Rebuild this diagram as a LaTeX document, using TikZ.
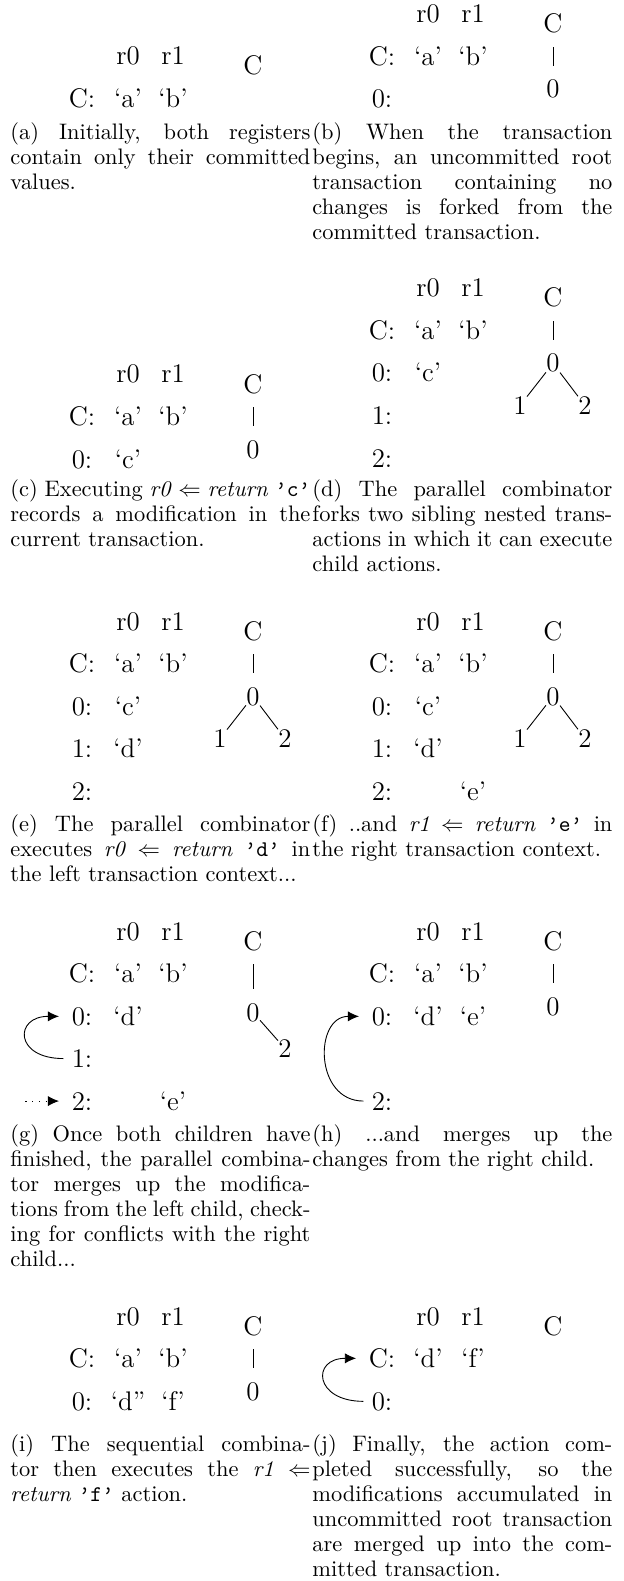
\documentclass[tikz,border=0pt]{standalone}
\usepackage{tikz}
\usetikzlibrary{arrows.meta,positioning}
\newcommand{\larr}{$\Leftarrow$}
\tikzset{
  reg/.style={anchor=base, font=\fontsize{12}{14}\selectfont, inner sep=1pt},
  tn/.style={reg, inner sep=0pt},
  bar/.style={shorten <=6pt, shorten >=6pt},
  subcap/.style={anchor=north west, inner sep=0pt, text width=133.8pt, align=justify,
              font=\fontsize{10}{11.15}\selectfont},
  merge/.style={-{Latex[length=5pt,width=4.6pt]}, shorten <=2.5pt, shorten >=4.5pt},
}

\begin{document}
\begin{tikzpicture}[x=4.46pt,y=4.46pt]
  \useasboundingbox (0,0) rectangle (62.4,-158.1);

  % (a) initial state
  \begin{scope}[shift={(8.2,-6.5)}]
    \node[reg] (ar0) at (4.6,0) {r0};
    \node[reg] (ar1) at (9.1,0) {r1};
    \node[reg] (aC) at (0,-4.25) {C:};
    \node[reg] (aCa) at (4.6,-4.25) {‘a’};
    \node[reg] (aCb) at (9.1,-4.25) {‘b’};
    \node[tn] (atC) at (17.1,-1.0) {C};
  \end{scope}

  % (b) root forked
  \begin{scope}[shift={(38.2,-2.3)}]
    \node[reg] (br0) at (4.6,0) {r0};
    \node[reg] (br1) at (9.1,0) {r1};
    \node[reg] (bC) at (0,-4.25) {C:};
    \node[reg] (bCa) at (4.6,-4.25) {‘a’};
    \node[reg] (bCb) at (9.1,-4.25) {‘b’};
    \node[reg] (b0) at (0,-8.5) {0:};
    \node[tn] (btC) at (17.1,-1.0) {C};
    \node[tn] (bt0) at (17.1,-7.5) {0};
    \draw[bar] (btC) -- (bt0);
  \end{scope}

  \node[subcap] (capa) at (1.0,-12.2) {(a) Initially, both registers contain only their committed values.};
  \node[subcap] (capb) at (31.2,-12.2) {(b) When the transaction begins, an uncommitted root transaction
    containing no changes is forked from the committed transaction.};

  % (c) write r0
  \begin{scope}[shift={(8.2,-38.3)}]
    \node[reg] (cr0) at (4.6,0) {r0};
    \node[reg] (cr1) at (9.1,0) {r1};
    \node[reg] (cC) at (0,-4.25) {C:};
    \node[reg] (cCa) at (4.6,-4.25) {‘a’};
    \node[reg] (cCb) at (9.1,-4.25) {‘b’};
    \node[reg] (c0) at (0,-8.5) {0:};
    \node[reg] (c0a) at (4.6,-8.5) {‘c’};
    \node[tn] (ctC) at (17.1,-1.0) {C};
    \node[tn] (ct0) at (17.1,-7.5) {0};
    \draw[bar] (ctC) -- (ct0);
  \end{scope}

  % (d) parallel fork
  \begin{scope}[shift={(38.2,-29.7)}]
    \node[reg] (dr0) at (4.6,0) {r0};
    \node[reg] (dr1) at (9.1,0) {r1};
    \node[reg] (dC) at (0,-4.25) {C:};
    \node[reg] (dCa) at (4.6,-4.25) {‘a’};
    \node[reg] (dCb) at (9.1,-4.25) {‘b’};
    \node[reg] (d0) at (0,-8.5) {0:};
    \node[reg] (d0a) at (4.6,-8.5) {‘c’};
    \node[reg] (d1) at (0,-12.75) {1:};
    \node[reg] (d2) at (0,-17) {2:};
    \node[tn] (dtC) at (17.1,-1.0) {C};
    \node[tn] (dt0) at (17.1,-7.5) {0};
    \node[tn] (dt1) at (13.8,-11.75) {1};
    \node[tn] (dt2) at (20.3,-11.75) {2};
    \draw[bar] (dtC) -- (dt0);
    \draw (dt0) -- (dt1);
    \draw (dt0) -- (dt2);
  \end{scope}

  \node[subcap] (capc) at (1.0,-47.9) {(c) Executing \textit{r0} \larr{} \textit{return} \texttt{’c’}
    records a modification in the current transaction.};
  \node[subcap] (capd) at (31.2,-47.9) {(d) The parallel combinator forks two sibling nested
    transactions in which it can execute child actions.};

  % (e) left child writes
  \begin{scope}[shift={(8.2,-63.0)}]
    \node[reg] (er0) at (4.6,0) {r0};
    \node[reg] (er1) at (9.1,0) {r1};
    \node[reg] (eC) at (0,-4.25) {C:};
    \node[reg] (eCa) at (4.6,-4.25) {‘a’};
    \node[reg] (eCb) at (9.1,-4.25) {‘b’};
    \node[reg] (e0) at (0,-8.5) {0:};
    \node[reg] (e0a) at (4.6,-8.5) {‘c’};
    \node[reg] (e1) at (0,-12.75) {1:};
    \node[reg] (e1a) at (4.6,-12.75) {‘d’};
    \node[reg] (e2) at (0,-17) {2:};
    \node[tn] (etC) at (17.1,-1.0) {C};
    \node[tn] (et0) at (17.1,-7.5) {0};
    \node[tn] (et1) at (13.8,-11.75) {1};
    \node[tn] (et2) at (20.3,-11.75) {2};
    \draw[bar] (etC) -- (et0);
    \draw (et0) -- (et1);
    \draw (et0) -- (et2);
  \end{scope}

  % (f) right child writes
  \begin{scope}[shift={(38.2,-63.0)}]
    \node[reg] (fr0) at (4.6,0) {r0};
    \node[reg] (fr1) at (9.1,0) {r1};
    \node[reg] (fC) at (0,-4.25) {C:};
    \node[reg] (fCa) at (4.6,-4.25) {‘a’};
    \node[reg] (fCb) at (9.1,-4.25) {‘b’};
    \node[reg] (f0) at (0,-8.5) {0:};
    \node[reg] (f0a) at (4.6,-8.5) {‘c’};
    \node[reg] (f1) at (0,-12.75) {1:};
    \node[reg] (f1a) at (4.6,-12.75) {‘d’};
    \node[reg] (f2) at (0,-17) {2:};
    \node[reg] (f2b) at (9.1,-17) {‘e’};
    \node[tn] (ftC) at (17.1,-1.0) {C};
    \node[tn] (ft0) at (17.1,-7.5) {0};
    \node[tn] (ft1) at (13.8,-11.75) {1};
    \node[tn] (ft2) at (20.3,-11.75) {2};
    \draw[bar] (ftC) -- (ft0);
    \draw (ft0) -- (ft1);
    \draw (ft0) -- (ft2);
  \end{scope}

  \node[subcap] (cape) at (1.0,-81.4) {(e) The parallel combinator\linebreak{} executes \textit{r0}
    \larr{} \textit{return} \texttt{’d’} in\linebreak{} the left transaction context...};
  \node[subcap] (capf) at (31.2,-81.4) {(f) ..and \textit{r1} \larr{} \textit{return} \texttt{’e’}
    in\linebreak{} the right transaction context.};

  % (g) merge left child
  \begin{scope}[shift={(8.2,-94.0)}]
    \node[reg] (gr0) at (4.6,0) {r0};
    \node[reg] (gr1) at (9.1,0) {r1};
    \node[reg] (gC) at (0,-4.25) {C:};
    \node[reg] (gCa) at (4.6,-4.25) {‘a’};
    \node[reg] (gCb) at (9.1,-4.25) {‘b’};
    \node[reg] (g0) at (0,-8.5) {0:};
    \node[reg] (g0a) at (4.6,-8.5) {‘d’};
    \node[reg] (g1) at (0,-12.75) {1:};
    \node[reg] (g2) at (0,-17) {2:};
    \node[reg] (g2b) at (9.1,-17) {‘e’};
    \node[tn] (gtC) at (17.1,-1.0) {C};
    \node[tn] (gt0) at (17.1,-8.1) {0};
    \node[tn] (gt2) at (20.3,-11.75) {2};
    \draw[bar] (gtC) -- (gt0);
    \draw (gt0) -- (gt2);
    \draw[merge] (g1.west) .. controls +(-5.5,0) and +(-5.5,0) .. (g0.west);
    \coordinate[left=22pt of g2.west] (gin);
    \draw[merge, dash pattern=on 0.6pt off 2.4pt] (gin) -- (g2.west);
  \end{scope}

  % (h) merge right child
  \begin{scope}[shift={(38.2,-94.0)}]
    \node[reg] (hr0) at (4.6,0) {r0};
    \node[reg] (hr1) at (9.1,0) {r1};
    \node[reg] (hC) at (0,-4.25) {C:};
    \node[reg] (hCa) at (4.6,-4.25) {‘a’};
    \node[reg] (hCb) at (9.1,-4.25) {‘b’};
    \node[reg] (h0) at (0,-8.5) {0:};
    \node[reg] (h0a) at (4.6,-8.5) {‘d’};
    \node[reg] (h0b) at (9.1,-8.5) {‘e’};
    \node[reg] (h2) at (0,-17) {2:};
    \node[tn] (htC) at (17.1,-1.0) {C};
    \node[tn] (ht0) at (17.1,-7.5) {0};
    \draw[bar] (htC) -- (ht0);
    \draw[merge] (h2.west) .. controls +(-5.5,0) and +(-5.5,0) .. (h0.west);
  \end{scope}

  \node[subcap] (capg) at (1.0,-112.4) {(g) Once both children have finished, the parallel combinator
    merges up the modifications from the left child, checking for conflicts with the right child...};
  \node[subcap] (caph) at (31.2,-112.4) {(h) ...and merges up the changes from the right child.};

  % (i) sequential step
  \begin{scope}[shift={(8.2,-132.5)}]
    \node[reg] (ir0) at (4.6,0) {r0};
    \node[reg] (ir1) at (9.1,0) {r1};
    \node[reg] (iC) at (0,-4.25) {C:};
    \node[reg] (iCa) at (4.6,-4.25) {‘a’};
    \node[reg] (iCb) at (9.1,-4.25) {‘b’};
    \node[reg] (i0) at (0,-8.5) {0:};
    \node[reg] (i0a) at (4.6,-8.5) {‘d”};
    \node[reg] (i0b) at (9.1,-8.5) {‘f’};
    \node[tn] (itC) at (17.1,-1.0) {C};
    \node[tn] (it0) at (17.1,-7.5) {0};
    \draw[bar] (itC) -- (it0);
  \end{scope}

  % (j) commit
  \begin{scope}[shift={(38.2,-132.5)}]
    \node[reg] (jr0) at (4.6,0) {r0};
    \node[reg] (jr1) at (9.1,0) {r1};
    \node[reg] (jC) at (0,-4.25) {C:};
    \node[reg] (jCa) at (4.6,-4.25) {‘d’};
    \node[reg] (jCb) at (9.1,-4.25) {‘f’};
    \node[reg] (j0) at (0,-8.5) {0:};
    \node[tn] (jtC) at (17.1,-1.0) {C};
    \draw[merge] (j0.west) .. controls +(-5.5,0) and +(-5.5,0) .. (jC.west);
  \end{scope}

  \node[subcap] (capi) at (1.0,-143.4) {(i) The sequential combina-\linebreak{}tor then executes the
    \textit{r1} \larr{}\linebreak{} \textit{return} \texttt{’f’} action.};
  \node[subcap] (capj) at (31.2,-143.4) {(j) Finally, the action completed successfully, so the
    modifications accumulated in uncommitted root transaction are merged up into the committed
    transaction.};
\end{tikzpicture}
\end{document}
